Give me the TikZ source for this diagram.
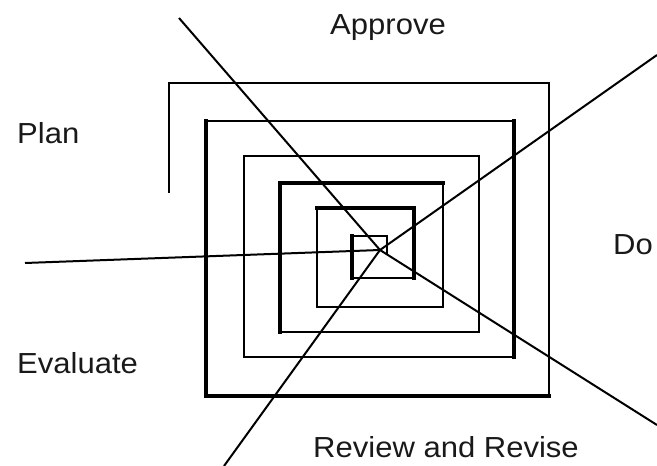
\documentclass[tikz,border=0pt]{standalone}
\usepackage{fontspec}
\setmainfont{Liberation Sans}
\begin{document}
\begin{tikzpicture}[x=1pt,y=-1pt,
  thinline/.style={line width=2pt,line cap=rect},
  medline/.style={line width=2.8pt,line cap=rect},
  thickline/.style={line width=4.2pt,line cap=rect},
  ray/.style={line width=2pt},
  lbl/.style={anchor=base west,inner sep=0pt,font=\fontsize{29}{34}\selectfont,text=black!90,xscale=1.07}]
\useasboundingbox (0,0) rectangle (657,466);
% spiral
\draw[thinline] (169,192) -- (169,83) -- (549,83) -- (549,396);
\draw[thickline] (549,396) -- (206,396) -- (206,121);
\draw[medline] (206,121) -- (514,121);
\draw[thickline] (514,121) -- (514,357);
\draw[medline] (514,357) -- (244,357);
\draw[thinline] (244,357) -- (244,156) -- (479,156) -- (479,332) -- (280,332);
\draw[thickline] (280,332) -- (280,183) -- (443,183);
\draw[thinline] (443,183) -- (443,307) -- (317,307) -- (317,208);
\draw[thickline] (317,208) -- (414,208) -- (414,278);
\draw[thinline] (414,278) -- (352,278);
\draw[thickline] (352,278) -- (352,236);
\draw[thinline] (352,236) -- (387,236) -- (387,253);
% rays
\coordinate (c) at (380,250);
\coordinate (ul) at (179,18);
\coordinate (ur) at (657,55);
\coordinate (l) at (25,263);
\coordinate (dr) at (657,425);
\coordinate (dl) at (224,466);
\draw[ray] (c) -- (ul);
\draw[ray] (c) -- (ur);
\draw[ray] (c) -- (l);
\draw[ray] (c) -- (dr);
\draw[ray] (c) -- (dl);
% labels
\node[lbl] (approve) at (330,34) {Approve};
\node[lbl] (plan) at (17,143) {Plan};
\node[lbl] (do) at (613,254) {Do};
\node[lbl] (evaluate) at (17,373) {Evaluate};
\node[lbl] (review) at (313,457) {Review and Revise};
\end{tikzpicture}
\end{document}
